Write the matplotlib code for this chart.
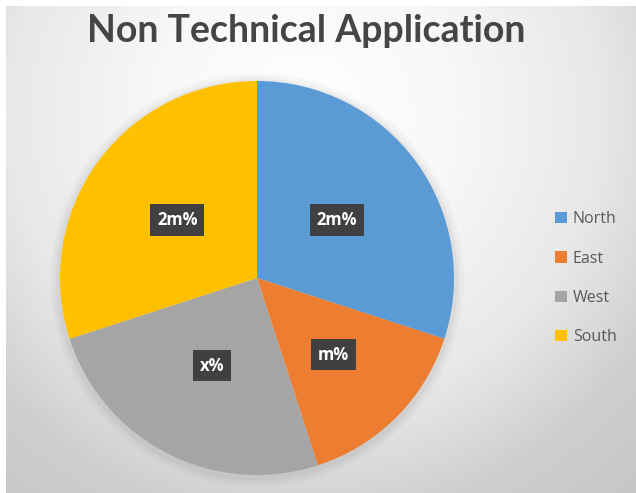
import matplotlib
matplotlib.use("Agg")
import matplotlib.pyplot as plt
import numpy as np
from matplotlib.patches import Patch, Circle

# data
regions = ["North", "East", "West", "South"]
shares = [30, 15, 25, 30]
share_labels = ["2m%", "m%", "x%", "2m%"]
colors = ["#5B9BD5", "#ED7D31", "#A5A5A5", "#FFC000"]
title = "Non Technical Application"

W, H = 636, 493
fig = plt.figure(figsize=(W / 100, H / 100), dpi=100)
fig.patch.set_facecolor("white")

# radial gray background (Excel style)
bg = fig.add_axes([0, 0, 1, 1])
bg.set_axis_off()
yy, xx = np.mgrid[0:H, 0:W]
dist = np.hypot(xx - 300, (yy - 110) * 1.0)
shade = np.interp(dist, [0, 150, 300, 350, 410, 490, 600],
                  [255, 248, 232, 221, 207, 200, 196]) / 255.0
img = np.dstack([shade, shade, shade])
bg.imshow(img, extent=(6, W, H, 6), interpolation="bilinear")
bg.set_xlim(0, W)
bg.set_ylim(H, 0)

# pie
cx, cy, r = 257, 278, 197
ax = fig.add_axes([(cx - 1.07 * r) / W, (H - cy - 1.07 * r) / H, 2.14 * r / W, 2.14 * r / H])
ax.set_facecolor("none")

# soft shadow behind the pie
for k, a in [(1.05, 0.02), (1.035, 0.025), (1.02, 0.035)]:
    ax.add_patch(Circle((0, -0.01), k, color="black", alpha=a, lw=0))

wedges, texts = ax.pie(
    shares,
    colors=colors,
    startangle=90,
    counterclock=False,
    labels=share_labels,
    labeldistance=0.5,
    wedgeprops=dict(linewidth=0),
)
for t in texts:
    t.set_ha("center")
    t.set_va("center")
    t.set_color("white")
    t.set_fontsize(12)
    t.set_fontweight("bold")
    t.set_family(["Open Sans", "DejaVu Sans"])
    t.set_bbox(dict(boxstyle="square,pad=0.4", facecolor="#404040", edgecolor="none"))
# east label sits a little further out
x, y = texts[1].get_position()
texts[1].set_position((x * 1.1, y * 1.1))
ax.set_xlim(-1.07, 1.07)
ax.set_ylim(-1.07, 1.07)
ax.set_aspect("equal")
ax.axis("off")

fig.text(306 / W, 1 - 31 / H, title, ha="center", va="center",
         fontsize=27, fontweight="bold", color="#454545",
         family=["Lato", "DejaVu Sans"])

handles = [Patch(facecolor=c, edgecolor="none") for c in colors]
leg = fig.legend(handles, regions, loc="upper left",
                 bbox_to_anchor=(541 / W, 1 - 197 / H),
                 frameon=False, handlelength=0.7, handleheight=0.7,
                 handletextpad=0.4, labelspacing=1.45,
                 prop=dict(family="Open Sans", size=11.5))
for t in leg.get_texts():
    t.set_color("#595959")

fig.savefig("out.png", dpi=100)
